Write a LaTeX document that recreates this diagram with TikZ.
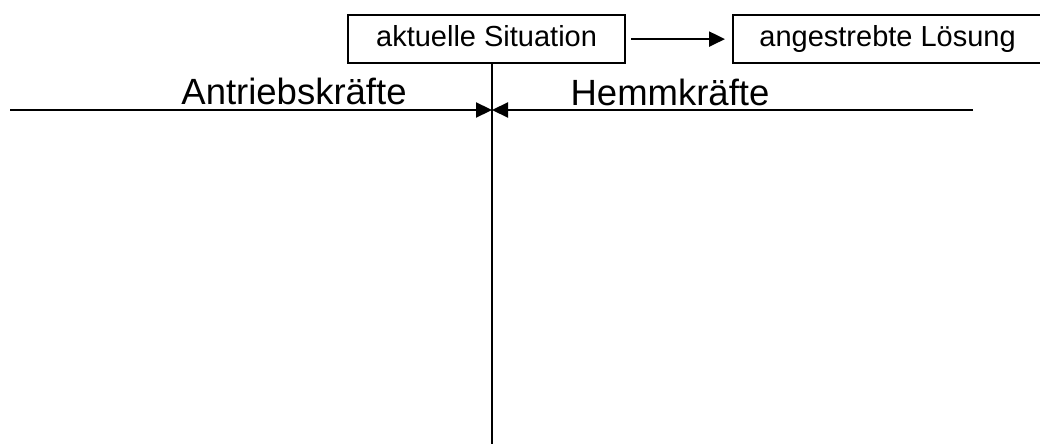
\documentclass[tikz,border=0pt]{standalone}
\usepackage{fontspec}
\setmainfont{Liberation Sans}
\usetikzlibrary{arrows.meta}
\begin{document}
\begin{tikzpicture}[x=1pt,y=-1pt,
  line width=2.2pt,
  statebox/.style={draw, line width=2.2pt, inner sep=0pt, anchor=north west,
    text height=21.75pt, text depth=7.8pt, font=\fontsize{29}{34}\selectfont},
  forcelabel/.style={anchor=base, inner sep=0pt, font=\fontsize{36.5}{42}\selectfont},
  tip/.style={-{Triangle[length=16pt,width=15pt]}}]
  \useasboundingbox (0,0) rectangle (1040,444);
  \begin{scope}
    \clip (0,0) rectangle (1040,444);
    % the two states
    \node[statebox, minimum width=277pt, minimum height=48pt] (cur) at (347,14) {aktuelle Situation};
    \node[statebox, minimum width=309pt, minimum height=48pt] (goal) at (732,14) {angestrebte Lösung};
    \draw[tip, shorten <=5pt, shorten >=7pt] (cur.east) -- (goal.west);
    % axis and the opposing forces
    \coordinate (axisbottom) at (492,444);
    \coordinate (mid) at (492,110);
    \coordinate (leftend) at (10,110);
    \coordinate (rightend) at (973,110);
    \draw (cur.south -| mid) -- (axisbottom);
    \draw[tip] (leftend) -- (mid);
    \draw[tip] (rightend) -- (mid);
    \node[forcelabel] (drive) at (294,104) {Antriebskräfte};
    \node[forcelabel] (resist) at (670,105) {Hemmkräfte};
  \end{scope}
\end{tikzpicture}
\end{document}
